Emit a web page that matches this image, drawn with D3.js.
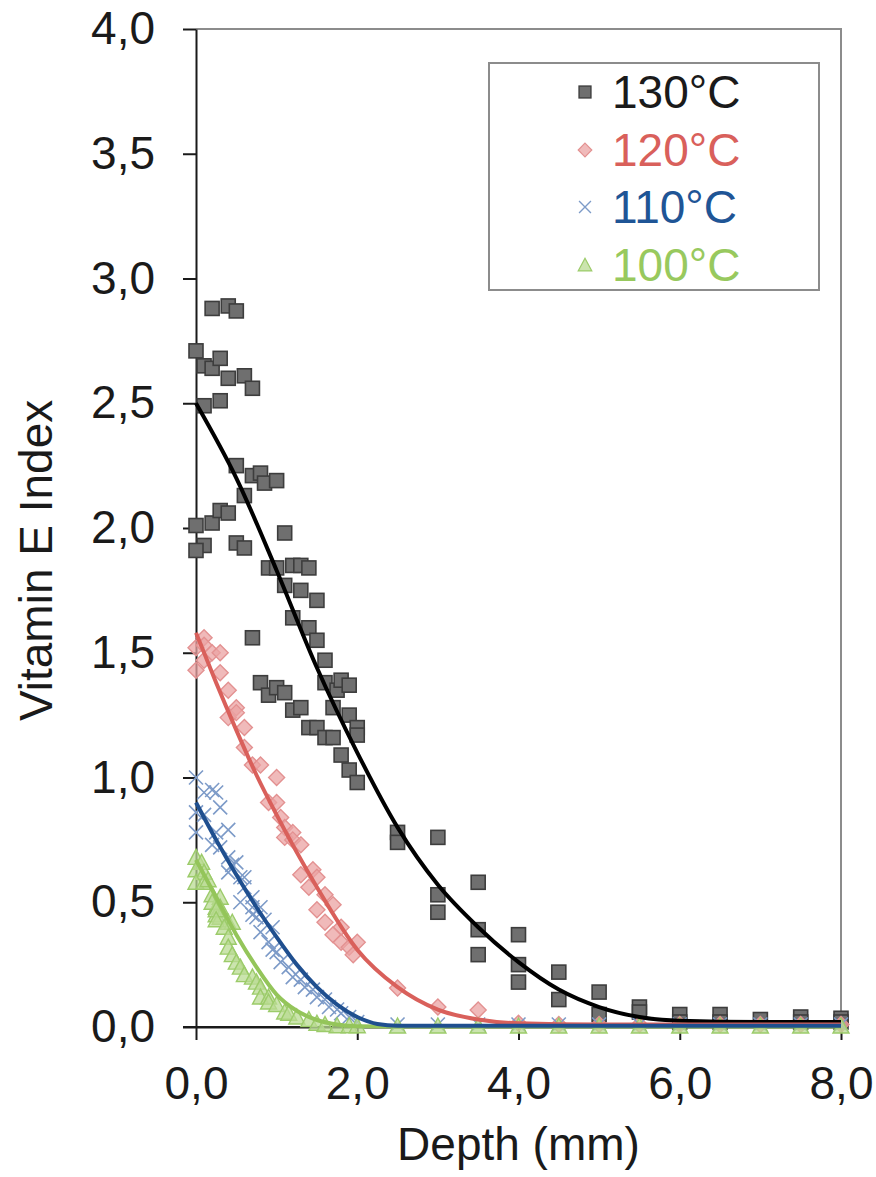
<!DOCTYPE html>
<html>
<head>
<meta charset="utf-8">
<script src="https://cdn.jsdelivr.net/npm/d3@7"></script>
<style>
  html, body { margin: 0; padding: 0; background: #fff; }
  svg { display: block; }
  text { font-family: "Liberation Sans", Arial, sans-serif; }
</style>
</head>
<body>
<svg id="chart" width="876" height="1177"></svg>
<script>
// Measured points: [depth (mm), vitamin E index]
const pts130 = [
  [0.2,2.88],[0.4,2.89],[0.5,2.87],[0,2.71],[0.1,2.65],[0.2,2.64],[0.3,2.68],[0.4,2.6],
  [0.6,2.61],[0.7,2.56],[0.1,2.49],[0.3,2.51],[0.5,2.25],[0.7,2.21],[0.8,2.22],[0.85,2.18],
  [1.0,2.19],[0.6,2.13],[0,2.01],[0.1,1.93],[0,1.91],[0.2,2.02],[0.3,2.07],[0.4,2.06],
  [0.5,1.94],[0.6,1.92],[1.1,1.98],[0.9,1.84],[1.0,1.84],[1.2,1.85],[1.3,1.85],[1.4,1.84],
  [1.1,1.77],[1.3,1.75],[1.5,1.71],[1.2,1.64],[1.4,1.6],[1.5,1.55],[0.7,1.56],[1.6,1.47],
  [0.8,1.38],[0.9,1.33],[1.0,1.36],[1.1,1.34],[1.2,1.27],[1.3,1.28],[1.4,1.2],[1.5,1.2],
  [1.6,1.16],[1.7,1.16],[1.8,1.09],[1.9,1.03],[2.0,0.98],[1.6,1.38],[1.75,1.35],[1.8,1.39],
  [1.9,1.37],[1.7,1.28],[1.9,1.25],[2.0,1.2],[2.0,1.17],
  [2.5,0.78],[2.5,0.74],[3.0,0.76],[3.0,0.53],[3.0,0.46],[3.5,0.58],[3.5,0.39],[3.5,0.29],
  [4.0,0.37],[4.0,0.25],[4.0,0.18],[4.5,0.22],[4.5,0.11],[5.0,0.14],[5.0,0.05],[5.5,0.08],
  [5.5,0.06],[6.0,0.05],[6.0,0.02],[6.5,0.05],[6.5,0.02],[7.0,0.03],[7.5,0.04],[7.5,0.02],
  [8.0,0.035],[8.0,0.02]
];
const pts120 = [
  [0,1.52],[0,1.43],[0.1,1.56],[0.1,1.53],[0.1,1.47],[0.2,1.5],[0.3,1.5],[0.3,1.42],[0.4,1.35],
  [0.5,1.28],[0.4,1.24],[0.5,1.26],[0.6,1.2],[0.6,1.12],[0.7,1.05],[0.8,1.05],[1.0,1.0],
  [0.9,0.9],[1.0,0.9],[1.05,0.84],[1.1,0.8],[1.2,0.78],[1.1,0.76],[1.2,0.75],[1.3,0.73],
  [1.45,0.63],[1.5,0.6],[1.3,0.61],[1.4,0.56],[1.6,0.53],[1.7,0.49],[1.5,0.47],[1.6,0.42],
  [1.8,0.4],[1.7,0.37],[1.8,0.34],[1.9,0.32],[2.0,0.34],[1.95,0.29],
  [2.5,0.156],[3.0,0.08],[3.5,0.068],[4.0,0.015],[4.5,0.01],[5.0,0.01],[5.5,0.01],
  [6.0,0.01],[6.5,0.01],[7.0,0.01],[7.5,0.01],[8.0,0.01]
];
const pts110 = [
  [0,1.0],[0.1,0.94],[0.2,0.95],[0.25,0.94],[0,0.86],[0.1,0.85],[0.3,0.88],[0,0.78],
  [0.25,0.78],[0.4,0.79],[0.2,0.73],[0.3,0.72],[0.4,0.68],[0.45,0.65],[0.5,0.66],[0.4,0.62],
  [0.55,0.6],[0.6,0.6],[0.6,0.56],[0.7,0.52],[0.7,0.48],[0.8,0.48],[0.75,0.44],[0.85,0.43],
  [0.95,0.4],[0.55,0.5],[0.7,0.45],[0.8,0.38],[0.9,0.34],[0.95,0.31],[1.0,0.3],[1.05,0.26],
  [1.15,0.24],[1.2,0.2],[1.3,0.19],[1.35,0.16],[1.45,0.15],[1.5,0.12],[1.6,0.11],[1.65,0.08],
  [1.75,0.07],[1.8,0.055],[1.9,0.04],[2.0,0.02],
  [2.5,0.01],[3.0,0.01],[3.5,0.01],[4.0,0.01],[4.5,0.01],[5.0,0.01],[5.5,0.01],[6.0,0.01],
  [6.5,0.01],[7.0,0.01],[7.5,0.01],[8.0,0.01]
];
const pts100 = [
  [0,0.68],[0.07,0.66],[0,0.63],[0.1,0.62],[0,0.58],[0.1,0.58],[0.15,0.59],[0.2,0.53],
  [0.3,0.52],[0.25,0.48],[0.3,0.48],[0.25,0.45],[0.3,0.44],[0.4,0.42],[0.45,0.42],[0.2,0.5],
  [0.25,0.47],[0.25,0.43],[0.35,0.4],[0.4,0.36],[0.4,0.32],[0.45,0.29],[0.5,0.26],[0.55,0.24],
  [0.6,0.21],[0.7,0.2],[0.75,0.18],[0.8,0.16],[0.8,0.12],[0.9,0.12],[0.9,0.1],[1.0,0.09],
  [1.1,0.06],[1.15,0.055],[1.25,0.04],[1.4,0.03],[1.5,0.015],[1.6,0.01],[1.75,0.005],
  [1.9,0.005],[2.0,0.005],
  [2.5,0.004],[3.0,0.004],[3.5,0.004],[4.0,0.004],[4.5,0.004],[5.0,0.004],[5.5,0.004],
  [6.0,0.004],[6.5,0.004],[7.0,0.004],[7.5,0.004],[8.0,0.004]
];

// Fitted profiles (knots along each fitted curve)
const fit130 = [[0,2.5],[0.5,2.2],[1.0,1.83],[1.5,1.44],[2.0,1.1],[2.5,0.8],[3.0,0.57],
  [3.5,0.4],[4.0,0.26],[4.5,0.15],[5.0,0.08],[5.5,0.04],[6.0,0.025],[7.0,0.02],[8.0,0.02]];
const fit120 = [[0,1.58],[0.25,1.38],[0.5,1.19],[0.75,1.01],[1.0,0.85],[1.5,0.56],[2.0,0.31],
  [2.5,0.16],[3.0,0.07],[3.5,0.03],[4.0,0.015],[5.0,0.01],[8.0,0.01]];
const fit110 = [[0,0.9],[0.25,0.75],[0.5,0.61],[0.75,0.48],[1.0,0.36],[1.25,0.25],[1.5,0.16],
  [1.75,0.09],[2.0,0.04],[2.25,0.012],[2.5,0.005],[3.0,0.005],[8.0,0.005]];
const fit100 = [[0,0.67],[0.25,0.52],[0.5,0.37],[0.75,0.24],[1.0,0.13],[1.25,0.065],[1.5,0.028],
  [1.75,0.01],[2.0,0.003],[2.5,0.002],[8.0,0.002]];

const seriesLabels = ["130°C", "120°C", "110°C", "100°C"];
const xTicks = [0, 2, 4, 6, 8];
const yTicks = [0, 0.5, 1, 1.5, 2, 2.5, 3, 3.5, 4];

const svg = d3.select("#chart");
const x = d3.scaleLinear().domain([0, 8]).range([196, 841]);
const y = d3.scaleLinear().domain([0, 4]).range([1027, 29]);
const fmt = d => d3.format(".1f")(d).replace(".", ",");

// plot-area frame (top and right edges)
svg.append("path")
  .attr("d", `M${x(0)},${y(4)}H${x(8)}V${y(0)}`)
  .attr("fill", "none").attr("stroke", "#8c8c8c").attr("stroke-width", 2);

// axes
const yAxis = svg.append("g").attr("transform", `translate(${x(0)},0)`)
  .call(d3.axisLeft(y).tickValues(yTicks).tickFormat(fmt).tickSize(13).tickSizeOuter(0).tickPadding(28));
const xAxis = svg.append("g").attr("transform", `translate(0,${y(0)})`)
  .call(d3.axisBottom(x).tickValues(xTicks).tickFormat(fmt).tickSize(13).tickSizeOuter(0).tickPadding(26));
[yAxis, xAxis].forEach(g => {
  g.selectAll(".domain").attr("stroke", "#1a1a1a").attr("stroke-width", 2);
  g.selectAll(".tick line").attr("stroke", "#1a1a1a").attr("stroke-width", 2);
  g.selectAll(".tick text").attr("fill", "#1a1a1a").style("font-size", "46px")
    .style("font-family", "'Liberation Sans', Arial, sans-serif");
});
// x axis baseline extends to the 0,0 tick on the left
svg.append("line").attr("x1", x(0) - 13).attr("x2", x(8)).attr("y1", y(0)).attr("y2", y(0))
  .attr("stroke", "#1a1a1a").attr("stroke-width", 2);

// axis titles
svg.append("text").attr("x", x(4)).attr("y", 1160).attr("text-anchor", "middle")
  .style("font-size", "46px").attr("fill", "#1a1a1a").text("Depth (mm)");
svg.append("text").attr("transform", `translate(52,${y(1.87)}) rotate(-90)`)
  .attr("text-anchor", "middle").style("font-size", "46px").attr("fill", "#1a1a1a")
  .text("Vitamin E Index");

// marker shapes
const S = 14;
const markers = {
  square: g => g.append("rect").attr("x", -S / 2).attr("y", -S / 2).attr("width", S).attr("height", S)
    .attr("fill", "#6f6f6f").attr("stroke", "#3d3d3d").attr("stroke-width", 1.6),
  diamond: g => g.append("path").attr("d", `M0,${-S/2 - 1}L${S/2 + 1},0L0,${S/2 + 1}L${-S/2 - 1},0Z`)
    .attr("fill", "#eba3a3").attr("fill-opacity", 0.75).attr("stroke", "#e39191").attr("stroke-width", 1.4),
  cross: g => g.append("path").attr("d", `M${-S/2},${-S/2}L${S/2},${S/2}M${-S/2},${S/2}L${S/2},${-S/2}`)
    .attr("fill", "none").attr("stroke", "#7d9bc8").attr("stroke-width", 1.6),
  triangle: g => g.append("path").attr("d", `M0,${-S/2 - 1}L${S/2 + 1},${S/2}L${-S/2 - 1},${S/2}Z`)
    .attr("fill", "#b9db93").attr("fill-opacity", 0.75).attr("stroke", "#9ccb6a").attr("stroke-width", 1.4)
};

const series = [
  { pts: pts130, fit: fit130, marker: "square", line: "#000000", text: "#1a1a1a" },
  { pts: pts120, fit: fit120, marker: "diamond", line: "#d9605b", text: "#d9605b" },
  { pts: pts110, fit: fit110, marker: "cross", line: "#1f4f8f", text: "#1f5596" },
  { pts: pts100, fit: fit100, marker: "triangle", line: "#94c55a", text: "#98c95e" }
];

// scatter points
series.forEach(s => {
  const g = svg.append("g");
  s.pts.forEach(p => {
    const m = g.append("g").attr("transform", `translate(${x(p[0])},${y(p[1])})`);
    markers[s.marker](m);
  });
});

// fitted curves
const line = d3.line().x(d => x(d[0])).y(d => y(d[1])).curve(d3.curveMonotoneX);
[0, 1, 3, 2].forEach(i => {
  svg.append("path").datum(series[i].fit).attr("d", line)
    .attr("fill", "none").attr("stroke", series[i].line).attr("stroke-width", 4);
});

// legend
const lg = svg.append("g");
lg.append("rect").attr("x", 489).attr("y", 63).attr("width", 330).attr("height", 227)
  .attr("fill", "#fff").attr("stroke", "#8c8c8c").attr("stroke-width", 2);
const rowY = [92, 150, 207, 265];
series.forEach((s, i) => {
  const m = lg.append("g").attr("transform", `translate(585,${rowY[i]}) scale(0.85)`);
  markers[s.marker](m);
  lg.append("text").attr("x", 612).attr("y", rowY[i] + 16).style("font-size", "46px")
    .attr("fill", s.text).text(seriesLabels[i]);
});
</script>
</body>
</html>
